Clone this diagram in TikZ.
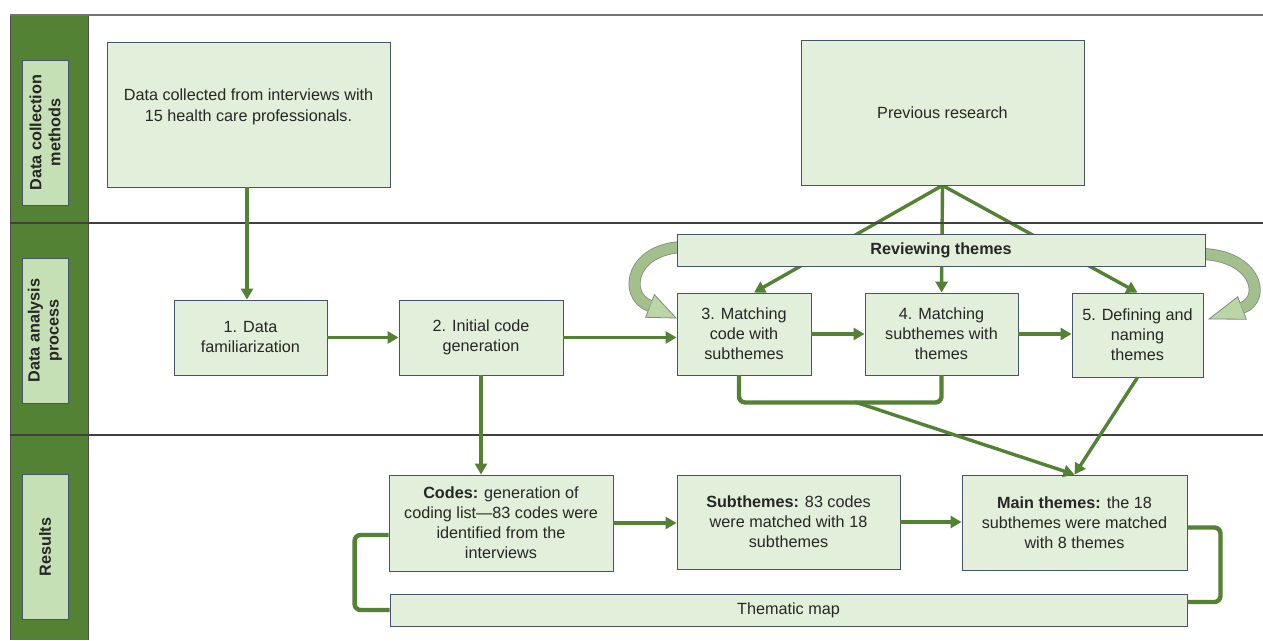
\documentclass[tikz,border=0pt]{standalone}
\usepackage{fontspec}
\setmainfont{Liberation Sans}
\usetikzlibrary{arrows.meta,calc}
\definecolor{sidegreen}{HTML}{548235}
\definecolor{labgreen}{HTML}{C5E0B4}
\definecolor{boxfill}{HTML}{E2EFDA}
\definecolor{boxline}{HTML}{44546A}
\definecolor{flow}{HTML}{548235}
\definecolor{blockfill}{HTML}{A3BF8C}
\definecolor{blockhfill}{HTML}{BBD6A6}
\definecolor{blockline}{HTML}{7F8C7F}
\definecolor{txt}{HTML}{262626}
\pgfdeclarelayer{bg}
\pgfsetlayers{bg,main}
\begin{document}
\begin{tikzpicture}[x=1pt,y=-1pt,
  box/.style={draw=boxline, line width=0.9pt, fill=boxfill, inner sep=0pt, align=center, font=\fontsize{16.2}{20}\selectfont, text=txt},
  plain/.style={inner sep=0pt, align=center, font=\fontsize{16.2}{21}\selectfont, text=txt},
  lab/.style={draw=boxline, line width=0.8pt, fill=labgreen, rotate=90, inner sep=0pt, align=center, font=\bfseries\fontsize{16.2}{19}\selectfont, text=txt, minimum width=145pt, minimum height=46pt},
  flowarrow/.style={draw=flow, line width=3.4pt, -{Triangle[length=11pt,width=12pt]}},
  flowline/.style={draw=flow, line width=4.4pt, rounded corners=6pt},
  lane/.style={draw=black!75, line width=1.2pt},
  blockout/.style={draw=blockline, line width=12pt},
  blockin/.style={draw=blockfill, line width=10.4pt},
  blockhead/.style={fill=blockhfill, draw=blockline, line width=0.8pt}
]
\useasboundingbox (0,0) rectangle (1263,640);
\begin{pgfonlayer}{bg}
\fill[white] (0,0) rectangle (1263,640);
\end{pgfonlayer}
% sidebar and lanes
\fill[sidegreen] (10,15) rectangle (88,640);
\draw[black!70, line width=0.8pt] (10,15) -- (10,640);
\draw[black!70, line width=0.8pt] (88,15) -- (88,640);
\draw[draw=black!55, line width=1.2pt] (10,15) -- (1263,15);
\draw[lane] (10,223) -- (1263,223);
\draw[lane] (10,435) -- (1263,435);

\node[lab] (lab1) at (45,132.5) {Data collection\\methods};
\node[lab] (lab2) at (45,330.5) {Data analysis\\process};
\node[lab] (lab3) at (45,547) {Results};

% boxes
\node[box, minimum width=283pt, minimum height=145pt] (data) at (248.5,114.5) {};
\node[plain] (datatext) at ([yshift=8pt]data.center) {Data collected from interviews with\\15 health care professionals.};
\node[box, minimum width=283pt, minimum height=145pt] (prev) at (942.5,112.5) {Previous research};
\node[box, minimum width=528pt, minimum height=32pt, font=\bfseries\fontsize{16.2}{20}\selectfont] (rev) at (941,250) {Reviewing themes};
\node[box, minimum width=153pt, minimum height=75pt] (n1) at (250.5,337.5) {1. Data\\familiarization};
\node[box, minimum width=164pt, minimum height=75pt] (n2) at (481,337.5) {2. Initial code\\generation};
\node[box, minimum width=134pt, minimum height=82pt] (n3) at (744,334) {3. Matching\\code with\\subthemes};
\node[box, minimum width=153pt, minimum height=82pt] (n4) at (941.5,334) {4. Matching\\subthemes with\\themes};
\node[box, minimum width=131pt, minimum height=84pt] (n5) at (1137.5,335) {5. Defining and\\naming\\themes};
\node[box, minimum width=224pt, minimum height=96pt] (codes) at (501,523) {\textbf{Codes:} generation of\\coding list---83 codes were\\identified from the\\interviews};
\node[box, minimum width=223pt, minimum height=94pt] (sub) at (788.5,522) {\textbf{Subthemes:} 83 codes\\were matched with 18\\subthemes};
\node[box, minimum width=225pt, minimum height=95pt] (main) at (1074.5,522.5) {\textbf{Main themes:} the 18\\subthemes were matched\\with 8 themes};
\node[box, minimum width=797pt, minimum height=32pt] (map) at (788.5,610) {Thematic map};

% background connectors (behind the Reviewing themes box)
\begin{pgfonlayer}{bg}
\draw[flowarrow] (prev.south) -- ([xshift=10pt]n3.north);
\draw[flowarrow] (prev.south) -- (n4.north);
\draw[flowarrow] (prev.south) -- (n5.north);
% left curved block arrow
\draw[blockout] (690,247) .. controls (630,245) and (622,296) .. (650,306);
\filldraw[blockhead] (654.4,294.7) -- (676,318) -- (645.6,317.3) -- cycle;
\draw[blockin] (690,247) .. controls (630,245) and (622,296) .. (650,306);
% right curved block arrow
\draw[blockout] (1195,254) .. controls (1255,252) and (1268,298) .. (1242,308);
\filldraw[blockhead] (1246.3,319.2) -- (1209,319) -- (1237.7,296.8) -- cycle;
\draw[blockin] (1195,254) .. controls (1255,252) and (1268,298) .. (1242,308);
\end{pgfonlayer}

% connectors
\draw[flowarrow] (data.south -| 247,0) -- (n1.north -| 247,0);
\draw[flowarrow] (n1.east) -- (n2.west);
\draw[flowarrow] (n2.east) -- (n2.east -| n3.west);
\draw[flowarrow] (n3.east) -- (n4.west);
\draw[flowarrow] (n4.east) -- (n4.east -| n5.west);
\draw[flowarrow] (n2.south) -- (n2.south |- codes.north);
\draw[flowarrow] (codes.east) -- (codes.east -| sub.west);
\draw[flowarrow] (sub.east) -- (sub.east -| main.west);
\draw[flowline] ([xshift=-5pt]n3.south) -- ++(0,27) -| (n4.south);
\coordinate (br) at (855,402);
\draw[flowarrow] (br) -- (main.north);
\draw[flowarrow] (n5.south) -- (main.north);
\draw[flowline] ([yshift=-12pt]codes.west) -- ++(-34,0) |- (map.west);
\draw[flowline] ([yshift=-5pt]main.east) -- ++(33,0) |- ([yshift=8pt]map.east);
\end{tikzpicture}
\end{document}
